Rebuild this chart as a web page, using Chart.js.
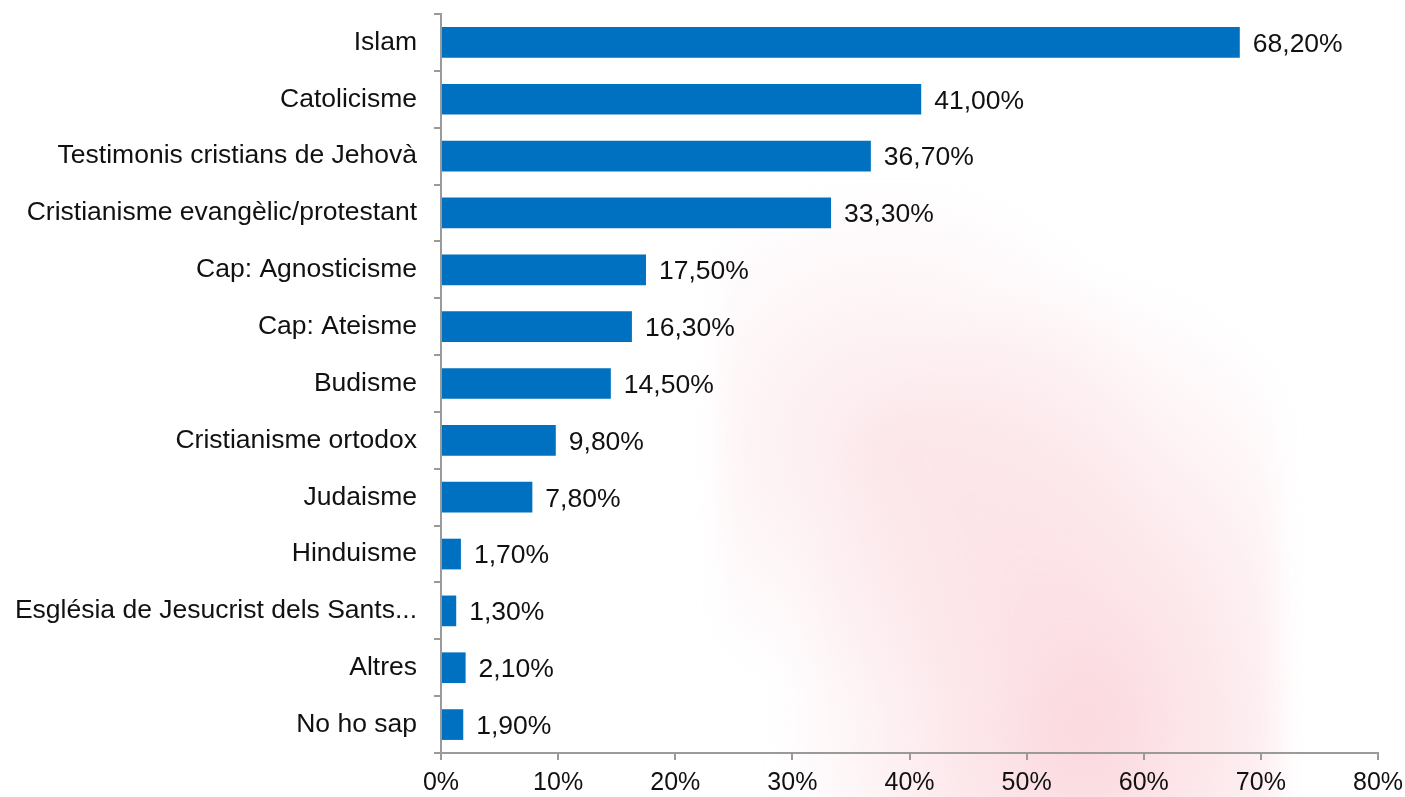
<!DOCTYPE html>
<html lang="ca">
<head>
  <meta charset="UTF-8" />
  <title>Religions</title>
  <script src="https://cdn.jsdelivr.net/npm/chart.js"></script>
  <style>
    html, body {
      margin: 0;
      padding: 0;
      width: 1405px;
      height: 797px;
      overflow: hidden;
      background: #ffffff;
      font-family: "Liberation Sans", Arial, sans-serif;
    }
    .wrap {
      position: relative;
      width: 1405px;
      height: 797px;
    }
    /* faded logo watermark behind the chart */
    .mark {
      position: absolute;
      left: 720px;
      top: 190px;
      width: 560px;
      height: 630px;
      background:
        radial-gradient(ellipse at 65% 85%, rgba(248,190,200,0.6), rgba(248,190,200,0) 60%),
        radial-gradient(ellipse at 30% 40%, rgba(248,200,208,0.4), rgba(248,200,208,0) 50%);
      filter: blur(14px);
    }
    canvas {
      position: absolute;
      left: 0;
      top: 0;
    }
  </style>
</head>
<body>
  <div class="wrap">
    <div class="mark"></div>
    <canvas id="chart" width="1405" height="797"></canvas>
  </div>

  <script>
    const categories = [
      'Islam',
      'Catolicisme',
      'Testimonis cristians de Jehovà',
      'Cristianisme evangèlic/protestant',
      'Cap: Agnosticisme',
      'Cap: Ateisme',
      'Budisme',
      'Cristianisme ortodox',
      'Judaisme',
      'Hinduisme',
      'Església de Jesucrist dels Sants...',
      'Altres',
      'No ho sap'
    ];
    const values = [68.2, 41.0, 36.7, 33.3, 17.5, 16.3, 14.5, 9.8, 7.8, 1.7, 1.3, 2.1, 1.9];
    const xTicks = [0, 10, 20, 30, 40, 50, 60, 70, 80];

    const fontFamily = '"Liberation Sans", Arial, sans-serif';
    const axisColor = '#9a9a9a';

    // writes "68,20%" after each bar
    const valueLabels = {
      id: 'valueLabels',
      afterDatasetsDraw(chart) {
        const ctx = chart.ctx;
        const meta = chart.getDatasetMeta(0);
        ctx.save();
        ctx.font = '26.5px ' + fontFamily;
        ctx.fillStyle = '#111';
        ctx.textAlign = 'left';
        ctx.textBaseline = 'middle';
        meta.data.forEach((bar, i) => {
          const txt = values[i].toFixed(2).replace('.', ',') + '%';
          ctx.fillText(txt, bar.x + 13, bar.y + 2);
        });
        ctx.restore();
      }
    };

    new Chart(document.getElementById('chart'), {
      type: 'bar',
      data: {
        labels: categories,
        datasets: [{
          data: values,
          backgroundColor: '#0070C0',
          borderWidth: 0,
          barPercentage: 0.54,
          categoryPercentage: 1
        }]
      },
      options: {
        indexAxis: 'y',
        responsive: false,
        animation: false,
        layout: { padding: 0 },
        plugins: {
          legend: { display: false },
          tooltip: { enabled: false }
        },
        scales: {
          x: {
            min: 0,
            max: 80,
            afterBuildTicks(scale) {
              scale.ticks = xTicks.map(v => ({ value: v }));
            },
            afterFit(scale) {
              scale.height = 44;
              scale.paddingRight = 27;
            },
            border: { display: true, color: axisColor, width: 2 },
            grid: {
              drawOnChartArea: false,
              drawTicks: true,
              tickLength: 7,
              color: axisColor,
              lineWidth: 2
            },
            ticks: {
              color: '#111',
              font: { family: fontFamily, size: 25 },
              padding: 8,
              callback: v => v + '%'
            }
          },
          y: {
            offset: true,
            afterFit(scale) {
              scale.width = 441;
              scale.paddingTop = 14;
            },
            border: { display: true, color: axisColor, width: 2 },
            grid: {
              offset: true,
              drawOnChartArea: false,
              drawTicks: true,
              tickLength: 7,
              color: axisColor,
              lineWidth: 2
            },
            ticks: {
              color: '#111',
              font: { family: fontFamily, size: 26.5 },
              padding: 17
            }
          }
        }
      },
      plugins: [valueLabels]
    });
  </script>
</body>
</html>
